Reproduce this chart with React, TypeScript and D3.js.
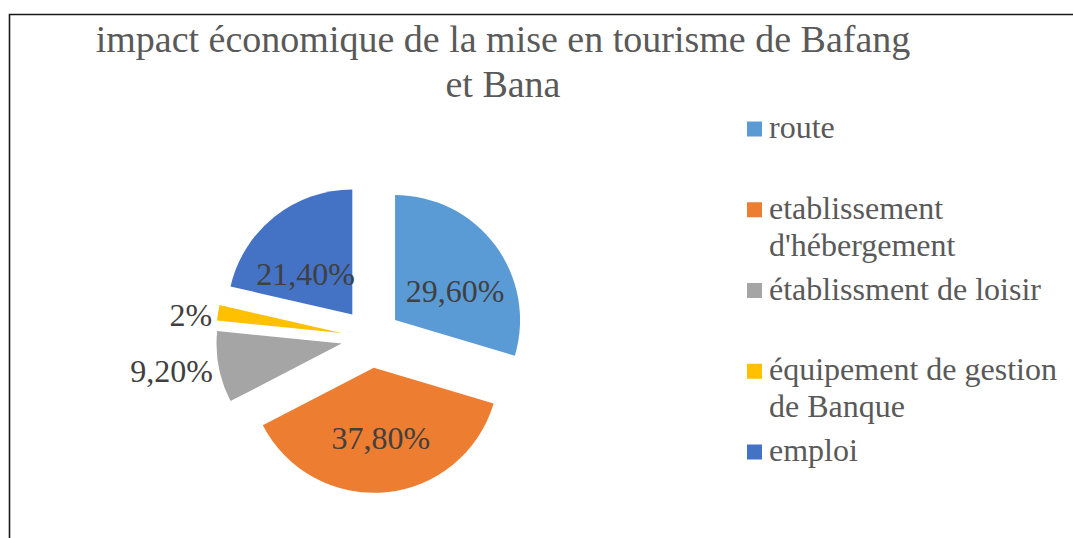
import { useEffect, useRef } from 'react';
import * as d3 from 'd3';

const categories = ['route', "etablissement d'hébergement", 'établissment de loisir', 'équipement de gestion de Banque', 'emploi'];
const values = [29.6, 37.8, 9.2, 2, 21.4];
const valueLabels = ['29,60%', '37,80%', '9,20%', '2%', '21,40%'];
const legendLines = [['route'], ['etablissement', "d'hébergement"], ['établissment de loisir'], ['équipement de gestion', 'de Banque'], ['emploi']];
const colors = ['#5B9BD5', '#ED7D31', '#A5A5A5', '#FFC000', '#4472C4'];
const titleLines = ['impact économique de la mise en tourisme de Bafang', 'et Bana'];

const App = () => {
  const svgRef = useRef<SVGSVGElement>(null);
  const width = 1073;
  const height = 538;

  useEffect(() => {
    const svg = d3.select(svgRef.current);
    svg.selectAll('*').remove();

    const font = '"Liberation Serif", "Times New Roman", serif';

    // frame (only top and left edges show)
    svg.append('path')
      .attr('d', `M9.5,${height} V14.5 H${width}`)
      .attr('fill', 'none')
      .attr('stroke', '#1a1a1a')
      .attr('stroke-width', 1.6);

    // title
    svg.append('text')
      .attr('x', 503)
      .attr('y', 52)
      .attr('text-anchor', 'middle')
      .attr('font-family', font)
      .attr('font-size', 38)
      .attr('fill', '#595959')
      .selectAll('tspan')
      .data(titleLines)
      .join('tspan')
      .attr('x', 503)
      .attr('dy', (d, i) => (i === 0 ? 0 : 45))
      .text(d => d);

    const cx = 371;
    const cy = 338;
    const radius = 125;
    const explode = 30;

    const pie = d3.pie<number>().sort(null).value(d => d);
    const arcs = pie(values);
    const arc = d3.arc<d3.PieArcDatum<number>>().innerRadius(0).outerRadius(radius);

    const g = svg.append('g').attr('transform', `translate(${cx},${cy})`);

    const slices = g.selectAll('g.slice')
      .data(arcs)
      .join('g')
      .attr('class', 'slice')
      .attr('transform', d => {
        const mid = (d.startAngle + d.endAngle) / 2;
        return `translate(${Math.sin(mid) * explode},${-Math.cos(mid) * explode})`;
      });

    slices.append('path')
      .attr('d', arc)
      .attr('fill', (d, i) => colors[i]);

    // data labels: inside for big slices, outside for thin ones
    slices.append('text')
      .attr('font-family', font)
      .attr('font-size', 32)
      .attr('fill', '#404040')
      .attr('dominant-baseline', 'central')
      .each(function (d, i) {
        const mid = (d.startAngle + d.endAngle) / 2;
        const inside = d.endAngle - d.startAngle > 0.8;
        let x, y;
        if (inside) {
          x = Math.sin(mid) * radius * 0.6;
          y = -Math.cos(mid) * radius * 0.5 + 8;
        } else {
          x = Math.sin(mid) * (radius + 6);
          y = -Math.cos(mid) * (radius + 6) + 3;
        }
        d3.select(this)
          .attr('x', x)
          .attr('y', y)
          .attr('text-anchor', inside ? 'middle' : x < 0 ? 'end' : 'start')
          .text(valueLabels[i]);
      });

    // legend
    const legend = svg.append('g').attr('transform', 'translate(747,129)');
    const item = legend.selectAll('g')
      .data(categories)
      .join('g')
      .attr('transform', (d, i) => `translate(0,${i * 80.75})`);

    item.append('rect')
      .attr('x', 0)
      .attr('y', -7.5)
      .attr('width', 15)
      .attr('height', 15)
      .attr('fill', (d, i) => colors[i]);

    item.append('text')
      .attr('font-family', font)
      .attr('font-size', 32)
      .attr('fill', '#595959')
      .selectAll('tspan')
      .data((d, i) => legendLines[i])
      .join('tspan')
      .attr('x', 22)
      .attr('y', (d, i) => 9 + i * 37)
      .text(d => d);
  }, []);

  return (
    <svg
      ref={svgRef}
      width={width}
      height={height}
      style={{ position: 'absolute', left: 0, top: 0, background: '#fff' }}
    />
  );
};

export default App;
